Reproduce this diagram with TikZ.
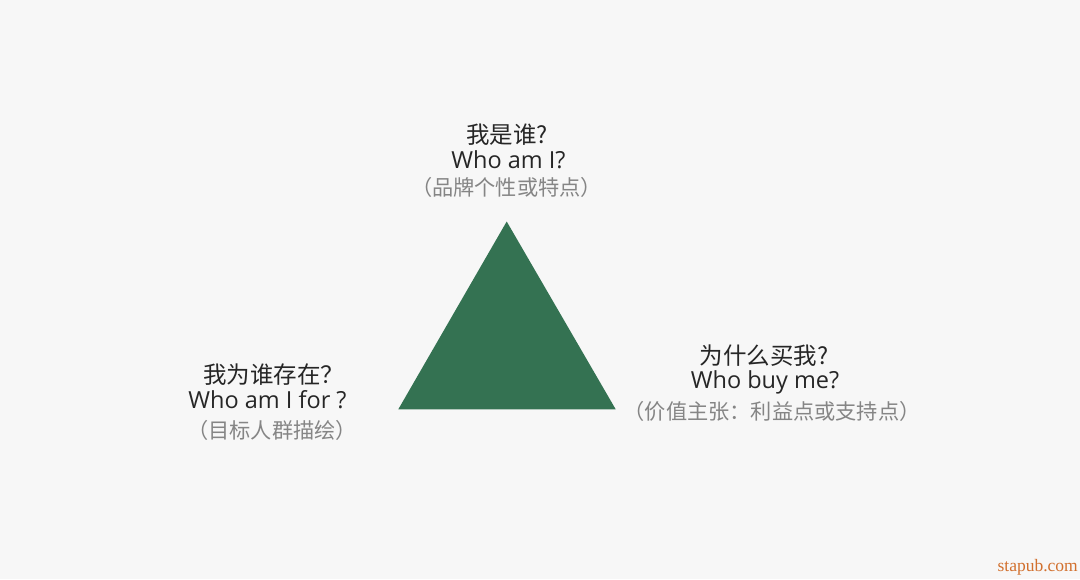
\documentclass[tikz,border=0pt]{standalone}
\usepackage{fontspec}
\setmainfont{Noto Sans CJK SC}
\newfontfamily\latinfont{Open Sans}
\newfontfamily\wmfont{Liberation Serif}
\definecolor{bg}{HTML}{F7F7F7}
\definecolor{tri}{HTML}{347252}
\definecolor{dark}{HTML}{262626}
\definecolor{sub}{HTML}{858585}
\definecolor{wm}{HTML}{D2702E}
\begin{document}
\begin{tikzpicture}[x=1pt,y=-1pt,
  title/.style={font=\fontsize{23.5}{26}\selectfont, text=dark, inner sep=0pt, anchor=center},
  entitle/.style={font=\latinfont\fontsize{23.5}{26}\selectfont, text=dark, inner sep=0pt, anchor=center},
  subt/.style={font=\fontsize{21.2}{24}\selectfont, text=sub, inner sep=0pt, anchor=center}]
\fill[bg] (0,0) rectangle (1080,579);
\useasboundingbox (0,0) rectangle (1080,579);
\fill[tri] (506.7,221.5) coordinate (apex) -- (398.3,409.3) coordinate (bl) -- (615.7,409.3) coordinate (br) -- cycle;
% top
\node[title] (t1) at (507,135) {我是谁?};
\node[entitle] (t2) at (508.5,160) {Who am I?};
\node[subt] (t3) at (506.5,187) {（品牌个性或特点）};
% left
\node[title] (l1) at (273.5,375) {我为谁存在？};
\node[entitle] (l2) at (267.5,400) {Who am I for ?};
\node[subt] (l3) at (272,430) {（目标人群描绘）};
% right
\node[title] (r1) at (764,356) {为什么买我?};
\node[entitle] (r2) at (765,382) {Who buy me?};
\node[subt] (r3) at (772,411) {（价值主张：利益点或支持点）};
% watermark
\node[font=\wmfont\fontsize{17.5}{19}\selectfont, text=wm, inner sep=0pt, anchor=east] (w) at (1078,567) {stapub.com};
\end{tikzpicture}
\end{document}
